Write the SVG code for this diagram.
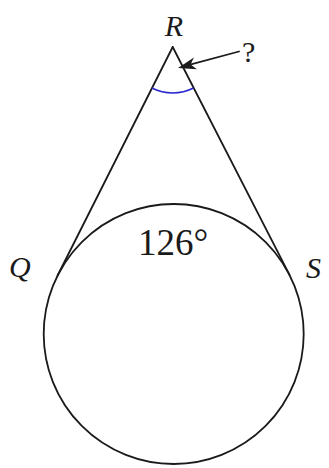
<svg xmlns="http://www.w3.org/2000/svg" width="329" height="468" viewBox="0 0 329 468">
<style>
.ln{fill:none;stroke:#1a1a1a;stroke-width:1.8;stroke-linecap:round}
.lbl{font-family:"Liberation Serif",serif;fill:#1a1a1a}
.it{font-style:italic}
</style>
<rect width="329" height="468" fill="#fff"/>
<g id="circle"><circle class="ln" cx="173.7" cy="334" r="130"/></g>
<g id="connectors">
<line class="ln" x1="172.7" y1="47" x2="57.6" y2="275.5"/>
<line class="ln" x1="172.7" y1="47" x2="289.4" y2="274.7"/>
<path d="M151.9,88 A46,46 0 0 0 193.5,88" fill="none" stroke="#2a2ad0" stroke-width="1.6"/>
<line class="ln" x1="239" y1="51.5" x2="190" y2="64.6"/>
<polygon points="178,68 196.9,69.2 190.6,64.6 193.9,57.6" fill="#1a1a1a"/>
</g>
<g id="R"><text class="lbl it" x="174" y="36" font-size="30" text-anchor="middle">R</text></g>
<g id="Q"><text class="lbl it" x="9" y="277" font-size="30">Q</text></g>
<g id="S"><text class="lbl it" x="306" y="278" font-size="30">S</text></g>
<g id="q"><text class="lbl" x="242" y="62" font-size="30">?</text></g>
<g id="angle"><text class="lbl" x="138" y="255" font-size="37">126°</text></g>
</svg>
